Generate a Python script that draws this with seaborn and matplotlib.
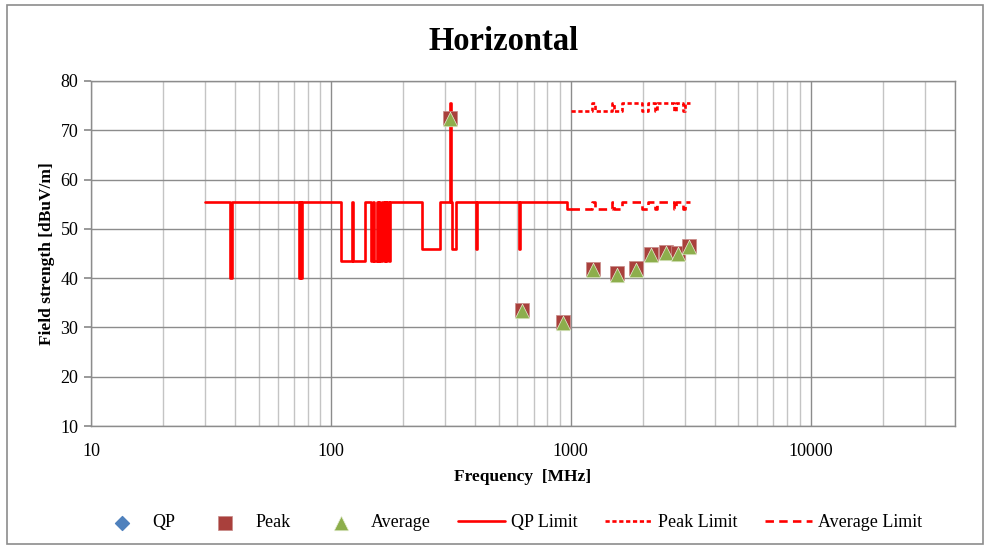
"""
Radiated emission plot (horizontal polarisation) with QP / Peak / Average limits.
"""

import matplotlib.pyplot as plt
import numpy as np
import seaborn as sns
from matplotlib.patches import Rectangle
from matplotlib.ticker import FixedLocator, FixedFormatter, NullFormatter

# measured points (MHz, dBuV/m)
peak_freq = [315, 624, 926, 1239, 1560, 1879, 2170, 2489, 2800, 3110]
peak_db = [72.5, 33.6, 31.1, 41.9, 41.0, 42.0, 44.9, 45.4, 45.1, 46.6]
avg_freq = [315, 624, 926, 1239, 1560, 1879, 2170, 2489, 2800, 3110]
avg_db = [72.2, 33.3, 30.8, 41.6, 40.7, 41.7, 44.6, 45.2, 44.9, 46.4]
qp_freq = []
qp_db = []

# QP limit below 1 GHz (step values, each holds until the next frequency)
qp_limit_freq = [30, 38, 38.7, 73.5, 74.3, 75, 75.8, 110, 122, 123.5, 138.5,
                 147.5, 150, 151.5, 155, 157, 158.5, 161, 163, 166, 167.5, 170,
                 172, 174.5, 176, 239, 286, 313.5, 316.5, 321, 334, 403, 407.5,
                 609, 615, 968, 1000]
qp_limit_db = [55.5, 40, 55.5, 40, 55.5, 40, 55.5, 43.5, 55.5, 43.5, 55.5,
               43.5, 55.5, 43.5, 55.5, 43.5, 55.5, 43.5, 55.5, 43.5, 55.5, 43.5,
               55.5, 43.5, 55.5, 46, 55.5, 75.5, 55.5, 46, 55.5, 46, 55.5,
               46, 55.5, 54, 54]

# limits above 1 GHz
hf_limit_freq = [1000, 1230, 1260, 1490, 1520, 1640, 1980, 2100, 2250, 2300,
                 2700, 2760, 2950, 3000, 3150]
peak_limit_db = [74, 75.5, 74, 75.5, 74, 75.5, 74, 75.5, 74, 75.5,
                 74, 75.5, 74, 75.5, 75.5]
avg_limit_db = [54, 55.5, 54, 55.5, 54, 55.5, 54, 55.5, 54, 55.5,
                54, 55.5, 54, 55.5, 55.5]

x_major = [10, 100, 1000, 10000]
y_ticks = [10, 20, 30, 40, 50, 60, 70, 80]

sns.set_theme(style="white")
plt.rcParams['font.family'] = ['Liberation Serif', 'DejaVu Serif']
plt.rcParams['text.color'] = 'black'
plt.rcParams['axes.labelcolor'] = 'black'

fig = plt.figure(figsize=(9.89, 5.48), dpi=100)
ax = fig.add_axes([0.092, 0.2226, 0.8736, 0.6296])
ax.set_xscale('log')

red = '#FF0000'
sns.lineplot(x=qp_limit_freq, y=qp_limit_db, ax=ax, color=red, lw=1.9,
             drawstyle='steps-post', label='QP Limit')
sns.lineplot(x=hf_limit_freq, y=peak_limit_db, ax=ax, color=red, lw=1.9,
             drawstyle='steps-post', linestyle=(0, (1.6, 1.0)), label='Peak Limit')
sns.lineplot(x=hf_limit_freq, y=avg_limit_db, ax=ax, color=red, lw=1.9,
             drawstyle='steps-post', linestyle=(0, (3.2, 2.0)), label='Average Limit')

ax.scatter(qp_freq, qp_db, marker='D', s=50, color='#4F81BD', label='QP')
sns.scatterplot(x=peak_freq, y=peak_db, ax=ax, marker='s', s=95,
                color='#A9403C', edgecolor='#C88A88', linewidth=0.5, label='Peak', zorder=4)
sns.scatterplot(x=avg_freq, y=avg_db, ax=ax, marker='^', s=110,
                color='#8DAE4C', edgecolor='#E8F0D8', linewidth=0.5, label='Average', zorder=5)

ax.set_xlim(10, 40000)
ax.set_ylim(10, 80)
minor = [m * d for d in x_major for m in range(2, 10) if m * d <= 40000]
ax.xaxis.set_major_locator(FixedLocator(x_major))
ax.xaxis.set_major_formatter(FixedFormatter([str(v) for v in x_major]))
ax.xaxis.set_minor_locator(FixedLocator(minor))
ax.xaxis.set_minor_formatter(NullFormatter())
ax.set_yticks(y_ticks)

ax.grid(True, which='major', axis='both', color='#8C8C8C', lw=1.0)
ax.grid(True, which='minor', axis='x', color='#C4C4C4', lw=1.0)
ax.set_axisbelow(True)
for s in ax.spines.values():
    s.set_color('#8C8C8C')
    s.set_linewidth(1.0)
ax.tick_params(axis='y', which='major', left=True, length=5, color='#8C8C8C',
               labelcolor='black', labelsize=13, pad=4)
ax.tick_params(axis='x', which='both', bottom=False, labelcolor='black',
               labelsize=13, pad=6)

ax.set_title('Horizontal', fontsize=23.5, fontweight='bold', pad=22, x=0.478)
ax.set_xlabel('Frequency  [MHz]', fontsize=12.5, fontweight='bold', labelpad=7)
ax.set_ylabel('Field strength [dBuV/m]', fontsize=12.5, fontweight='bold', labelpad=4)

handles, labels = ax.get_legend_handles_labels()
lookup = dict(zip(labels, handles))
order = ['QP', 'Peak', 'Average', 'QP Limit', 'Peak Limit', 'Average Limit']
ax.legend([lookup[k] for k in order], order, loc='center', ncol=6,
          bbox_to_anchor=(0.516, 0.046), bbox_transform=fig.transFigure,
          frameon=False, fontsize=13, handlelength=2.6, columnspacing=1.5,
          handletextpad=0.35)

fig.patches.append(Rectangle((0.007, 0.007), 0.987, 0.983, transform=fig.transFigure,
                             fill=False, edgecolor='#8C8C8C', lw=1.2))

plt.savefig('out.png', dpi=100)
plt.close()
